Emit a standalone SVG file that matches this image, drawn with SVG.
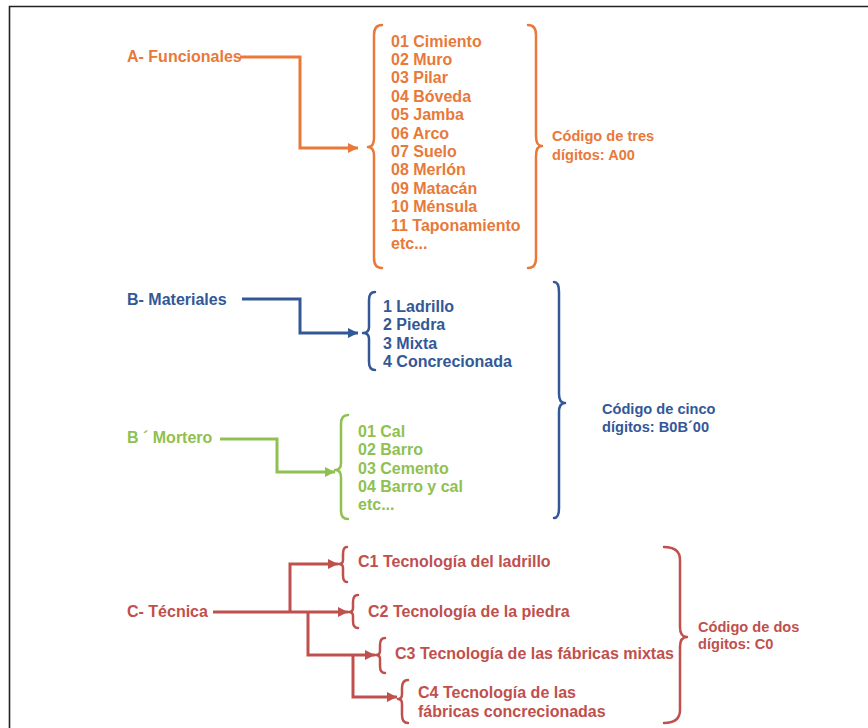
<svg xmlns="http://www.w3.org/2000/svg" width="868" height="728" viewBox="0 0 868 728">
<style>
text{font-family:"Liberation Sans",Arial,sans-serif;font-weight:bold;font-size:16px}
.lbl{font-size:14.6px}
.o{fill:#e8793a}.b{fill:#335897}.g{fill:#8fc151}.r{fill:#c0504d}
.br{fill:none;stroke-width:2.5;stroke-linecap:round;stroke-linejoin:round}
.cn{fill:none;stroke-width:3;stroke-linejoin:miter}
.so{stroke:#e8793a}.sb{stroke:#335897}.sg{stroke:#8fc151}.sr{stroke:#c0504d}
</style>
<defs>
<marker id="ao" viewBox="0 0 10 10" refX="10" refY="5" markerWidth="3.4" markerHeight="3.4" orient="auto"><path d="M0,0L10,5L0,10z" fill="#e8793a"/></marker>
<marker id="ab" viewBox="0 0 10 10" refX="10" refY="5" markerWidth="3.4" markerHeight="3.4" orient="auto"><path d="M0,0L10,5L0,10z" fill="#335897"/></marker>
<marker id="ag" viewBox="0 0 10 10" refX="10" refY="5" markerWidth="3.4" markerHeight="3.4" orient="auto"><path d="M0,0L10,5L0,10z" fill="#8fc151"/></marker>
<marker id="ar" viewBox="0 0 10 10" refX="10" refY="5" markerWidth="3.4" markerHeight="3.4" orient="auto"><path d="M0,0L10,5L0,10z" fill="#c0504d"/></marker>
</defs>
<rect width="868" height="728" fill="#ffffff"/>
<path d="M9.5,728 V6.5 H868" fill="none" stroke="#222" stroke-width="1.6"/>

<g id="connectors">
<path class="cn so" d="M240,57 H300 V148 H358" marker-end="url(#ao)"/>
<path class="cn sb" d="M242,299 H300 V333 H358" marker-end="url(#ab)"/>
<path class="cn sg" d="M220,439 H277 V472 H335" marker-end="url(#ag)"/>
<path class="cn sr" d="M213,612 H348" marker-end="url(#ar)"/>
<path class="cn sr" d="M290,612 V564 H338" marker-end="url(#ar)"/>
<path class="cn sr" d="M308,612 V655 H375" marker-end="url(#ar)"/>
<path class="cn sr" d="M353,655 V697 H397" marker-end="url(#ar)"/>
</g>

<g id="A-Funcionales">
<text class="o" x="127" y="62">A- Funcionales</text>
</g>

<g id="A-list">
<path class="br so" d="M382,25 Q374,25 374,35 L374,138 Q374,147 368,147 Q374,147 374,156 L374,258 Q374,268 382,268"/>
<text class="o" x="391">
<tspan x="391" y="46.5">01 Cimiento</tspan>
<tspan x="391" y="64.9">02 Muro</tspan>
<tspan x="391" y="83.3">03 Pilar</tspan>
<tspan x="391" y="101.7">04 Bóveda</tspan>
<tspan x="391" y="120.1">05 Jamba</tspan>
<tspan x="391" y="138.5">06 Arco</tspan>
<tspan x="391" y="156.9">07 Suelo</tspan>
<tspan x="391" y="175.3">08 Merlón</tspan>
<tspan x="391" y="193.7">09 Matacán</tspan>
<tspan x="391" y="212.1">10 Ménsula</tspan>
<tspan x="391" y="230.5">11 Taponamiento</tspan>
<tspan x="391" y="248.9">etc...</tspan>
</text>
<path class="br so" d="M528,25 Q536,25 536,35 L536,136 Q536,146 542,146 Q536,146 536,156 L536,258 Q536,268 528,268"/>
</g>

<g id="A-code">
<text class="o lbl"><tspan x="552" y="141">Código de tres</tspan><tspan x="552" y="160">dígitos: A00</tspan></text>
</g>

<g id="B-Materiales">
<text class="b" x="127" y="305">B- Materiales</text>
</g>

<g id="B-list">
<path class="br sb" d="M375,292 Q369,292 369,300 L369,327 Q369,333 363,333 Q369,333 369,339 L369,362 Q369,370 375,370"/>
<text class="b">
<tspan x="383" y="312">1 Ladrillo</tspan>
<tspan x="383" y="330.3">2 Piedra</tspan>
<tspan x="383" y="348.6">3 Mixta</tspan>
<tspan x="383" y="366.9">4 Concrecionada</tspan>
</text>
</g>

<g id="B-Mortero">
<text class="g" x="127" y="443">B ´ Mortero</text>
</g>

<g id="B-mortero-list">
<path class="br sg" d="M348,415 Q341,415 341,424 L341,463 Q341,470 335,470 Q341,470 341,477 L341,511 Q341,519 348,519"/>
<text class="g">
<tspan x="358" y="437">01 Cal</tspan>
<tspan x="358" y="455.3">02 Barro</tspan>
<tspan x="358" y="473.6">03 Cemento</tspan>
<tspan x="358" y="491.9">04 Barro y cal</tspan>
<tspan x="358" y="510.2">etc...</tspan>
</text>
</g>

<g id="B-code">
<path class="br sb" d="M554,282 Q559,282 559,292 L559,394 Q559,403 565,403 Q559,403 559,412 L559,508 Q559,518 554,518"/>
<text class="b lbl"><tspan x="602" y="414">Código de cinco</tspan><tspan x="602" y="432">dígitos: B0B´00</tspan></text>
</g>

<g id="C-Tecnica">
<text class="r" x="127" y="617">C- Técnica</text>
</g>

<g id="C1">
<path class="br sr" d="M347,547 Q343,547 343,554 L343,560 Q343,564 339,564 Q343,564 343,568 L343,575 Q343,582 347,582"/>
<text class="r" x="358" y="567">C1 Tecnología del ladrillo</text>
</g>
<g id="C2">
<path class="br sr" d="M358,595 Q353,595 353,602 L353,608 Q353,612 349,612 Q353,612 353,616 L353,621 Q353,628 358,628"/>
<text class="r" x="368" y="617">C2 Tecnología de la piedra</text>
</g>
<g id="C3">
<path class="br sr" d="M385,638 Q380,638 380,645 L380,651 Q380,655 376,655 Q380,655 380,659 L380,666 Q380,673 385,673"/>
<text class="r" x="395" y="659">C3 Tecnología de las fábricas mixtas</text>
</g>
<g id="C4">
<path class="br sr" d="M408,680 Q402,680 402,688 L402,694 Q402,699 398,699 Q402,699 402,704 L402,715 Q402,723 408,723"/>
<text class="r"><tspan x="418" y="698">C4 Tecnología de las</tspan><tspan x="418" y="717">fábricas concrecionadas</tspan></text>
</g>

<g id="C-code">
<path class="br sr" d="M664,547 Q680,547 680,560 L680,627 Q680,637 687,637 Q680,637 680,647 L680,710 Q680,723 664,723"/>
<text class="r lbl"><tspan x="698" y="632">Código de dos</tspan><tspan x="698" y="649">dígitos: C0</tspan></text>
</g>
</svg>
